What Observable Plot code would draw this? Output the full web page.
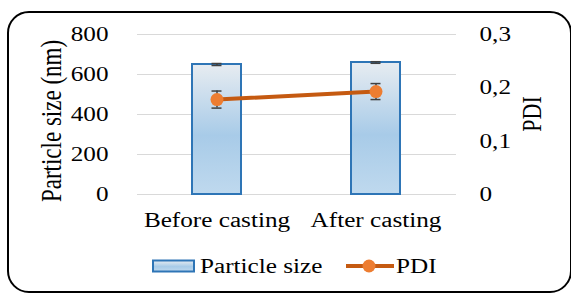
<!DOCTYPE html>
<html><head><meta charset="utf-8">
<script src="https://cdn.jsdelivr.net/npm/d3@7"></script>
<script src="https://cdn.jsdelivr.net/npm/@observablehq/plot@0.6"></script>
<style>
body{margin:0;background:#fff;font-family:'Liberation Serif',serif;}
#wrap{position:relative;width:571px;height:294px;overflow:hidden;background:#fff;}
#wrap svg text, #wrap svg{font-family:'Liberation Serif',serif !important;}
#frame{position:absolute;left:7px;top:11px;width:565px;height:282px;border:2px solid #000;border-radius:22px;box-sizing:border-box;pointer-events:none}
#chart{position:absolute;left:0;top:0}
.ytitle{position:absolute;white-space:nowrap;font-family:'Liberation Serif',serif;color:#000;line-height:1}
#legend{position:absolute;left:0;top:250px}
</style></head>
<body>
<div id="wrap"><div id="frame"></div><div id="chart"></div>
<div class="ytitle" id="ltitle" style="left:52px;top:121px;font-size:23px;transform:translate(-50%,-50%) rotate(-90deg) scaleY(1.26)">Particle size (nm)</div>
<div class="ytitle" id="rtitle" style="left:532px;top:114px;font-size:22px;transform:translate(-50%,-50%) rotate(-90deg) scaleY(1.26)">PDI</div>
</div>
<script>
// ---- data ----
const categories = ["Before casting", "After casting"];
const particleSize = [650, 660];
const particleErr = [5, 4];
const pdi = [0.178, 0.193];
const pdiErr = [0.016, 0.015];
const leftTicks = [0, 200, 400, 600, 800];
const rightTicks = [0, 0.1, 0.2, 0.3];
const seriesNames = ["Particle size", "PDI"];

const STRETCH = 1.26;
const toY = d3.scaleLinear([0, 0.3], [0, 800]);
const fromY = toY.invert;
const data = categories.map((c, i) => ({
  cat: c, size: particleSize[i], sizeErr: particleErr[i], pdi: pdi[i], pdiErr: pdiErr[i]
}));

const defsMark = () => {
  const defs = d3.create("svg:defs");
  const g = defs.append("linearGradient").attr("id", "barGrad")
    .attr("x1", 0).attr("y1", 0).attr("x2", 0).attr("y2", 1);
  g.append("stop").attr("offset", "0%").attr("stop-color", "#e7ecf1");
  g.append("stop").attr("offset", "55%").attr("stop-color", "#a8cbe8");
  g.append("stop").attr("offset", "100%").attr("stop-color", "#bfd9ee");
  return defs.node();
};

const chart = Plot.plot({
  width: 571, height: 294,
  marginLeft: 137, marginRight: 115, marginTop: 34, marginBottom: 100,
  style: {fontFamily: "'Liberation Serif', serif", fontSize: "20px", color: "#000", background: "transparent"},
  x: {domain: categories, paddingInner: 0.69, paddingOuter: 0.345},
  y: {domain: [0, 800]},
  marks: [
    defsMark,
    Plot.gridY(leftTicks, {stroke: "#d9d9d9", strokeOpacity: 1, strokeWidth: 1.2}),
    Plot.barY(data, {x: "cat", y: "size", fill: "url(#barGrad)", stroke: "#2e75b6", strokeWidth: 2}),
    Plot.ruleX(data, {x: "cat", y1: d => d.size - d.sizeErr, y2: d => d.size + d.sizeErr, stroke: "#404040", strokeWidth: 1.5}),
    Plot.tickY(data, {x: "cat", y: d => d.size - d.sizeErr, stroke: "#404040", strokeWidth: 1.5, inset: 19.5}),
    Plot.tickY(data, {x: "cat", y: d => d.size + d.sizeErr, stroke: "#404040", strokeWidth: 1.5, inset: 19.5}),
    Plot.line(data, {x: "cat", y: d => toY(d.pdi), stroke: "#c55a11", strokeWidth: 4}),
    Plot.ruleX(data, {x: "cat", y1: d => toY(d.pdi - d.pdiErr), y2: d => toY(d.pdi + d.pdiErr), stroke: "#404040", strokeWidth: 1.5}),
    Plot.tickY(data, {x: "cat", y: d => toY(d.pdi - d.pdiErr), stroke: "#404040", strokeWidth: 1.5, inset: 19.5}),
    Plot.tickY(data, {x: "cat", y: d => toY(d.pdi + d.pdiErr), stroke: "#404040", strokeWidth: 1.5, inset: 19.5}),
    Plot.dot(data, {x: "cat", y: d => toY(d.pdi), r: 6.5, fill: "#ed7d31", stroke: "none"}),
    Plot.axisY(leftTicks, {anchor: "left", tickSize: 0, tickPadding: 29, label: null, fill: "#000"}),
    Plot.axisY(rightTicks.map(toY), {anchor: "right", tickSize: 0, tickPadding: 23, label: null, fill: "#000",
      textAnchor: "start",
      tickFormat: d => { const v = fromY(d); return Math.abs(v) < 1e-9 ? "0" : v.toFixed(1).replace(".", ","); }}),
    Plot.axisX({tickSize: 0, tickPadding: 18, label: null, fill: "#000"})
  ]
});
document.getElementById("chart").appendChild(chart);

// legend
const lg = d3.select("#wrap").append("svg").attr("id", "legend").attr("width", 571).attr("height", 40);
lg.append("rect").attr("x", 153).attr("y", 10.5).attr("width", 41).attr("height", 11)
  .attr("fill", "url(#barGrad)").attr("stroke", "#2e75b6").attr("stroke-width", 2);
lg.append("text").attr("x", 200).attr("y", 22.5).text(seriesNames[0]);
lg.append("line").attr("x1", 346).attr("x2", 394).attr("y1", 16).attr("y2", 16)
  .attr("stroke", "#c55a11").attr("stroke-width", 4);
lg.append("circle").attr("cx", 369).attr("cy", 16).attr("r", 6.5).attr("fill", "#ed7d31");
lg.append("text").attr("x", 396).attr("y", 22.5).text(seriesNames[1]);
lg.selectAll("text").attr("font-size", 20).attr("fill", "#000");

// horizontal stretch of text to match the reference's wide serif
document.querySelectorAll("#wrap svg text").forEach(t => {
  const len = t.getComputedTextLength();
  if (len > 0) {
    t.setAttribute("textLength", (len * STRETCH).toFixed(2));
    t.setAttribute("lengthAdjust", "spacingAndGlyphs");
  }
});
</script>
</body></html>
